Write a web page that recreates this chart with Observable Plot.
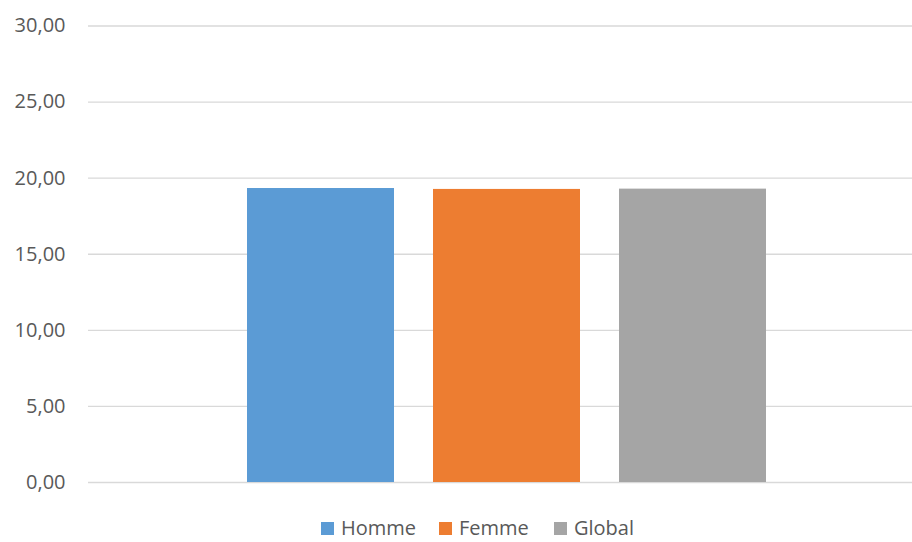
<!DOCTYPE html>
<html>
<head>
<meta charset="utf-8">
<script src="https://cdn.jsdelivr.net/npm/d3@7"></script>
<script src="https://cdn.jsdelivr.net/npm/@observablehq/plot@0.6"></script>
<style>
  html, body { margin: 0; padding: 0; background: #fff; }
  #chart { width: 912px; height: 542px; position: relative; overflow: hidden; font-family: "Open Sans", "Noto Sans", sans-serif; }
  .legend { position: absolute; left: 0; top: 519px; width: 912px; height: 18px; }
  .legend .item { position: absolute; top: 0; display: flex; align-items: center; height: 18px; line-height: 18px; font-size: 20px; color: #595959; }
  .legend .sw { width: 13px; height: 13px; margin-right: 7px; }
</style>
</head>
<body>
<div id="chart"></div>
<script>
// Categories and their values
const categories = ["Homme", "Femme", "Global"];
const values = [19.32, 19.26, 19.28];
const colors = ["#5B9BD5", "#ED7D31", "#A5A5A5"];
const yTicks = [0, 5, 10, 15, 20, 25, 30];

const data = categories.map((c, i) => ({category: c, value: values[i]}));
const fmt = d => d.toFixed(2).replace(".", ",");

const plot = Plot.plot({
  width: 912,
  height: 500,
  marginTop: 25.5,
  marginBottom: 18,
  marginLeft: 88,
  marginRight: 0,
  style: {fontFamily: "'Open Sans', 'Noto Sans', sans-serif", fontSize: "20px", color: "#595959", background: "#fff"},
  x: {domain: categories, range: [88, 924], paddingInner: 0.21, paddingOuter: 0.852, axis: null},
  y: {domain: [0, 30], ticks: yTicks, tickFormat: fmt, tickSize: 0, tickPadding: 23, label: null},
  color: {domain: categories, range: colors},
  marks: [
    Plot.ruleY(yTicks, {stroke: "#D9D9D9", strokeWidth: 1.3}),
    Plot.barY(data, {x: "category", y: "value", fill: "category"}),
    Plot.axisY({ticks: yTicks, tickFormat: fmt, tickSize: 0, tickPadding: 23, fill: "#595959", fontSize: 20, label: null})
  ]
});
document.getElementById("chart").appendChild(plot);

// Legend below the plot
const legend = document.createElement("div");
legend.className = "legend";
const legendX = [321, 439, 554];
categories.forEach((c, i) => {
  const item = document.createElement("div");
  item.className = "item";
  item.style.left = legendX[i] + "px";
  const sw = document.createElement("span");
  sw.className = "sw";
  sw.style.background = colors[i];
  const label = document.createElement("span");
  label.textContent = c;
  item.appendChild(sw);
  item.appendChild(label);
  legend.appendChild(item);
});
document.getElementById("chart").appendChild(legend);
</script>
</body>
</html>
